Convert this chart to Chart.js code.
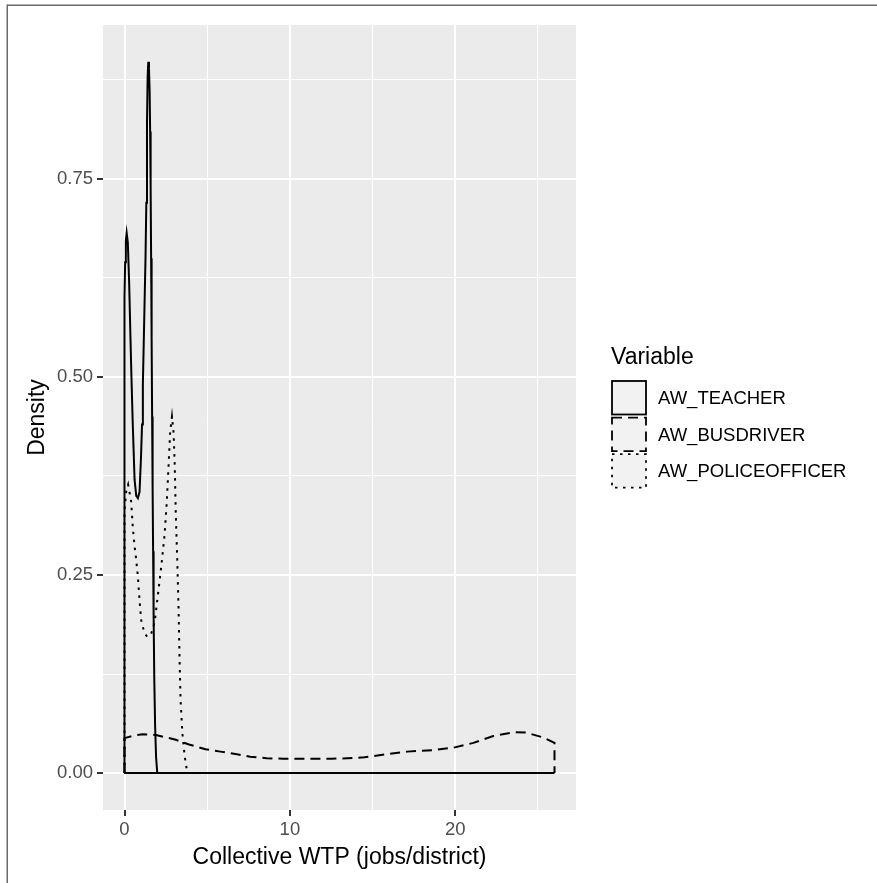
<!DOCTYPE html>
<html>
<head>
<meta charset="utf-8">
<script src="https://cdn.jsdelivr.net/npm/chart.js@4.4.1/dist/chart.umd.min.js"></script>
<style>
  html, body { margin: 0; padding: 0; background: #fff; }
  canvas { display: block; }
</style>
</head>
<body>
<canvas id="chart" width="877" height="883"></canvas>
<script>
// density curves (closed polygons like geom_density)
const variables = ["AW_TEACHER", "AW_BUSDRIVER", "AW_POLICEOFFICER"];

const teacherX = [0, 0, 0.04, 0.08, 0.13, 0.2, 0.28, 0.36, 0.42, 0.5, 0.61, 0.71, 0.81, 0.91, 1.0,
  1.06, 1.11, 1.16, 1.21, 1.27, 1.32, 1.36, 1.40, 1.44, 1.48, 1.52, 1.55, 1.58, 1.61, 1.64,
  1.67, 1.70, 1.73, 1.76, 1.80, 1.85, 1.91, 1.98, 0];
const teacherY = [0, 0.60, 0.645, 0.672, 0.682, 0.67, 0.62, 0.55, 0.50, 0.44, 0.37, 0.35, 0.347, 0.355, 0.40,
  0.44, 0.49, 0.54, 0.59, 0.65, 0.72, 0.82, 0.88, 0.898, 0.89, 0.86, 0.81, 0.74, 0.65, 0.55,
  0.45, 0.36, 0.28, 0.20, 0.12, 0.06, 0.02, 0, 0];

const busX = [0, 0, 0.5, 1.1, 1.9, 3.1, 3.9, 4.9, 5.8, 6.8, 7.6, 8.6, 9.6, 11, 12.5,
  14, 14.5, 15.4, 16.3, 17.1, 18.7, 19.9, 21.1, 22.3, 23.5, 24.3, 25.3, 26, 26, 0];
const busY = [0, 0.044, 0.047, 0.049, 0.048, 0.042, 0.036, 0.030, 0.027, 0.0236, 0.0206, 0.0186, 0.018, 0.018, 0.018,
  0.019, 0.0198, 0.0225, 0.025, 0.027, 0.029, 0.032, 0.038, 0.0467, 0.0514, 0.051, 0.045, 0.038, 0, 0];

const policeX = [0, 0, 0.1, 0.22, 0.4, 0.5, 0.61, 0.71, 0.81, 0.91, 1.01, 1.2, 1.38, 1.6, 1.82,
  2.02, 2.22, 2.42, 2.55, 2.67, 2.76, 2.87, 2.97, 3.04, 3.1, 3.19, 3.27, 3.33, 3.39, 3.5, 3.64, 3.8, 0];
const policeY = [0, 0.33, 0.355, 0.364, 0.343, 0.311, 0.286, 0.269, 0.248, 0.218, 0.193, 0.177, 0.172, 0.175, 0.19,
  0.225, 0.26, 0.30, 0.34, 0.39, 0.43, 0.45, 0.429, 0.387, 0.328, 0.269, 0.206, 0.143, 0.092, 0.05, 0.021, 0, 0];

const xTicks = [0, 5, 10, 15, 20, 25];
const xMajor = [0, 10, 20];
const yTicks = [0, 0.125, 0.25, 0.375, 0.5, 0.625, 0.75, 0.875];
const yMajor = [0, 0.25, 0.5, 0.75];

const xTitle = "Collective WTP (jobs/district)";
const yTitle = "Density";
const legendTitle = "Variable";

const FONT = "'Liberation Sans', Arial, sans-serif";
const dashes = [[], [10, 6], [2.5, 5.5]];

function points(xs, ys) {
  return xs.map((x, i) => ({ x: x, y: ys[i] }));
}

function isMajor(list, v) {
  return list.some(m => Math.abs(m - v) < 1e-9);
}

// solid closing line along the baseline, line type elsewhere
function lineDataset(label, xs, ys, dash) {
  return {
    label: label,
    data: points(xs, ys),
    borderColor: "#000000",
    borderWidth: 2,
    borderDash: dash,
    pointRadius: 0,
    fill: false,
    tension: 0,
    segment: {
      borderDash: ctx => (ctx.p0.parsed.y === 0 && ctx.p1.parsed.y === 0) ? [] : dash
    }
  };
}

const panelBg = {
  id: "panelBg",
  beforeDraw(chart) {
    const { ctx, chartArea: a } = chart;
    ctx.save();
    ctx.fillStyle = "#ffffff";
    ctx.fillRect(0, 0, chart.width, chart.height);
    ctx.fillStyle = "#EBEBEB";
    ctx.fillRect(a.left, a.top, a.right - a.left, a.bottom - a.top);
    ctx.restore();
  }
};

const ggLegend = {
  id: "ggLegend",
  afterDraw(chart) {
    const ctx = chart.ctx;
    ctx.save();
    // thin frame at top and left edge of the picture
    ctx.fillStyle = "#6b6b6b";
    ctx.fillRect(7, 4.5, chart.width - 7, 1.5);
    ctx.fillRect(6.5, 4.5, 1.5, chart.height - 4.5);

    ctx.fillStyle = "#000000";
    ctx.font = "23px " + FONT;
    ctx.textBaseline = "middle";
    ctx.textAlign = "left";
    ctx.fillText(legendTitle, 611, 358);

    variables.forEach((name, i) => {
      const top = 381 + i * 36.6;
      ctx.fillStyle = "#F2F2F2";
      ctx.fillRect(612, top, 34, 33.5);
      ctx.strokeStyle = "#000000";
      ctx.lineWidth = 1.8;
      ctx.setLineDash(dashes[i]);
      ctx.strokeRect(612, top, 34, 33.5);
      ctx.setLineDash([]);
      ctx.fillStyle = "#000000";
      ctx.font = "18.5px " + FONT;
      ctx.fillText(name, 658, top + 18);
    });
    ctx.restore();
  }
};

new Chart(document.getElementById("chart"), {
  type: "line",
  data: {
    datasets: [
      lineDataset(variables[0], teacherX, teacherY, dashes[0]),
      lineDataset(variables[1], busX, busY, dashes[1]),
      lineDataset(variables[2], policeX, policeY, dashes[2])
    ]
  },
  options: {
    responsive: false,
    animation: false,
    layout: { padding: { left: 0, top: 25, right: 301, bottom: 0 } },
    plugins: {
      legend: { display: false },
      tooltip: { enabled: false }
    },
    scales: {
      x: {
        type: "linear",
        min: -1.3,
        max: 27.3,
        afterBuildTicks: scale => { scale.ticks = xTicks.map(v => ({ value: v })); },
        afterFit: scale => { scale.height = 73; },
        border: { display: false },
        grid: {
          color: "#ffffff",
          lineWidth: ctx => (ctx.tick && isMajor(xMajor, ctx.tick.value)) ? 2 : 1,
          tickColor: ctx => (ctx.tick && isMajor(xMajor, ctx.tick.value)) ? "#333333" : "rgba(0,0,0,0)",
          tickWidth: 2,
          tickLength: 6
        },
        ticks: {
          autoSkip: false,
          maxRotation: 0,
          padding: 3,
          color: "#4D4D4D",
          font: { family: FONT, size: 18.5 },
          callback: v => isMajor(xMajor, v) ? String(v) : ""
        },
        title: {
          display: true,
          text: xTitle,
          color: "#000000",
          font: { family: FONT, size: 23 },
          padding: { top: 0, bottom: 12 }
        }
      },
      y: {
        type: "linear",
        min: -0.0467,
        max: 0.9444,
        afterBuildTicks: scale => { scale.ticks = yTicks.map(v => ({ value: v })); },
        afterFit: scale => { scale.width = 103; },
        border: { display: false },
        grid: {
          color: "#ffffff",
          lineWidth: ctx => (ctx.tick && isMajor(yMajor, ctx.tick.value)) ? 2 : 1,
          tickColor: ctx => (ctx.tick && isMajor(yMajor, ctx.tick.value)) ? "#333333" : "rgba(0,0,0,0)",
          tickWidth: 2,
          tickLength: 6
        },
        ticks: {
          autoSkip: false,
          padding: 4,
          color: "#4D4D4D",
          font: { family: FONT, size: 18.5 },
          callback: v => isMajor(yMajor, v) ? v.toFixed(2) : ""
        },
        title: {
          display: true,
          text: yTitle,
          color: "#000000",
          font: { family: FONT, size: 23 },
          padding: { top: 24, bottom: 0 }
        }
      }
    }
  },
  plugins: [panelBg, ggLegend]
});
</script>
</body>
</html>
